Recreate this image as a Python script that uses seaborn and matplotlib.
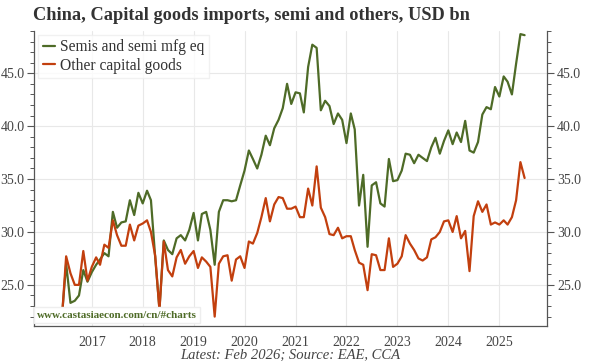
import pandas as pd
import matplotlib.pyplot as plt
import matplotlib.dates as mdates
from matplotlib.ticker import MultipleLocator, FormatStrFormatter
import seaborn as sns

# Monthly data, Jun 2016 onwards (USD bn)
months = pd.date_range('2016-06-01', periods=110, freq='MS')

semis = [22.0, 27.0, 23.3, 23.5, 24.0, 26.4, 25.3, 26.2, 26.9, 27.4,
         28.0, 27.7, 31.9, 30.4, 30.9, 31.0, 33.0, 31.6, 33.7, 32.7,
         33.9, 33.0, 27.5, 22.7, 29.2, 28.3, 27.9, 29.4, 29.7, 29.2,
         30.2, 31.8, 29.2, 31.7, 31.9, 30.2, 26.9, 31.9, 33.0, 33.0,
         32.9, 33.0, 34.4, 35.8, 37.7, 36.9, 36.0, 37.3, 39.1, 38.2,
         39.8, 40.6, 41.7, 44.0, 42.1, 43.2, 43.1, 41.3, 45.6, 47.7,
         47.4, 41.5, 42.4, 41.9, 40.2, 41.2, 40.6, 38.4, 41.2, 39.7,
         32.5, 35.4, 28.6, 34.4, 34.7, 32.7, 32.4, 36.9, 34.8, 34.9,
         35.8, 37.4, 37.3, 36.5, 37.3, 37.0, 36.7, 38.0, 38.9, 37.4,
         38.6, 39.6, 38.3, 39.4, 38.5, 40.5, 37.7, 37.5, 38.5, 41.1,
         41.8, 41.6, 43.7, 42.8, 44.7, 44.2, 43.0, 45.9, 48.7, 48.6]

others = [21.9, 27.7, 26.1, 25.0, 25.0, 28.2, 25.4, 26.7, 27.6, 26.9,
          28.8, 28.5, 31.1, 29.7, 28.7, 28.7, 30.7, 29.2, 30.6, 30.8,
          31.1, 30.0, 27.7, 22.6, 29.1, 26.4, 25.8, 27.6, 28.3, 27.0,
          27.7, 28.2, 26.6, 27.6, 27.2, 26.7, 22.0, 27.0, 27.7, 27.8,
          25.4, 27.4, 27.7, 26.6, 29.1, 28.9, 29.9, 31.4, 33.2, 31.0,
          32.6, 33.3, 33.2, 32.2, 32.2, 32.4, 31.4, 31.4, 34.1, 32.5,
          36.2, 32.3, 31.4, 29.8, 29.7, 30.4, 29.4, 29.6, 29.6, 28.3,
          27.1, 26.9, 24.5, 27.9, 27.8, 26.4, 26.4, 29.4, 26.7, 27.0,
          27.7, 29.7, 28.9, 28.3, 27.5, 27.3, 27.6, 29.3, 29.5, 30.0,
          31.0, 31.1, 30.0, 31.5, 29.4, 30.1, 26.3, 31.5, 32.9, 31.9,
          32.6, 30.7, 30.9, 30.7, 31.1, 30.7, 31.4, 33.0, 36.6, 35.1]

series_names = ['Semis and semi mfg eq', 'Other capital goods']
series_colors = ['#4e6b27', '#c23f0e']
year_ticks = [pd.Timestamp(f'{y}-01-01') for y in range(2017, 2026)]

df = pd.DataFrame({'date': list(months) * 2,
                   'value': semis + others,
                   'series': [series_names[0]] * len(semis) + [series_names[1]] * len(others)})

sns.set_style('white')
plt.rcParams['font.family'] = ['Liberation Serif', 'DejaVu Serif']

fig = plt.figure(figsize=(6, 3.64), dpi=100)
ax = fig.add_axes([0.057, 0.104, 0.855, 0.811])

sns.lineplot(data=df, x='date', y='value', hue='series', hue_order=series_names,
             palette=series_colors, linewidth=1.6, ax=ax)

ax.set_xlim(pd.Timestamp('2015-11-15'), pd.Timestamp('2025-12-10'))
ax.set_ylim(21.1, 49.0)
ax.set_xlabel('')
ax.set_ylabel('')

# axes and ticks
ax.set_xticks(year_ticks)
ax.xaxis.set_major_formatter(mdates.DateFormatter('%Y'))
ax.xaxis.set_minor_locator(mdates.MonthLocator(bymonth=5))
ax.yaxis.set_major_locator(MultipleLocator(5))
ax.yaxis.set_minor_locator(MultipleLocator(1))
ax.yaxis.set_major_formatter(FormatStrFormatter('%.1f'))

ax.grid(True, which='major', color='#e8e8e8', linewidth=0.8)
ax.set_axisbelow(True)
for side in ['left', 'right', 'bottom']:
    ax.spines[side].set_visible(True)
    ax.spines[side].set_color('#555555')
    ax.spines[side].set_linewidth(0.9)
ax.spines['top'].set_visible(False)

ax.tick_params(axis='both', which='major', direction='out', length=5, width=0.8,
               color='#555555', labelsize=10, labelcolor='#444444', pad=2)
ax.tick_params(axis='both', which='minor', direction='out', length=3, width=0.7,
               color='#555555')
ax.tick_params(axis='y', which='both', left=True, right=True, labelleft=True, labelright=True)
ax.tick_params(axis='x', which='major', pad=2)

leg = ax.legend(loc='upper left', frameon=True, fontsize=11.2, handlelength=0.8,
                handletextpad=0.3, borderpad=0.3, labelspacing=0.15,
                borderaxespad=0.25, fancybox=False)
leg.get_frame().set_edgecolor('#eeeeee')
leg.get_frame().set_facecolor('white')
for t in leg.get_texts():
    t.set_color('#333333')

fig.text(0.055, 0.958, 'China, Capital goods imports, semi and others, USD bn',
         fontsize=13.2, fontweight='bold', color='#333333', ha='left', va='center')

ax.text(0.006, 0.022, 'www.castasiaecon.com/cn/#charts', transform=ax.transAxes,
        fontsize=8, fontweight='bold', color='#4e6b27', ha='left', va='bottom',
        bbox=dict(boxstyle='square,pad=0.3', facecolor='white', edgecolor='#eeeeee'))

fig.text(0.484, 0.006, 'Latest: Feb 2026; Source: EAE, CCA', fontsize=10.5,
         style='italic', color='#444444', ha='center', va='bottom')

plt.savefig('out.png', dpi=100)
plt.close()
